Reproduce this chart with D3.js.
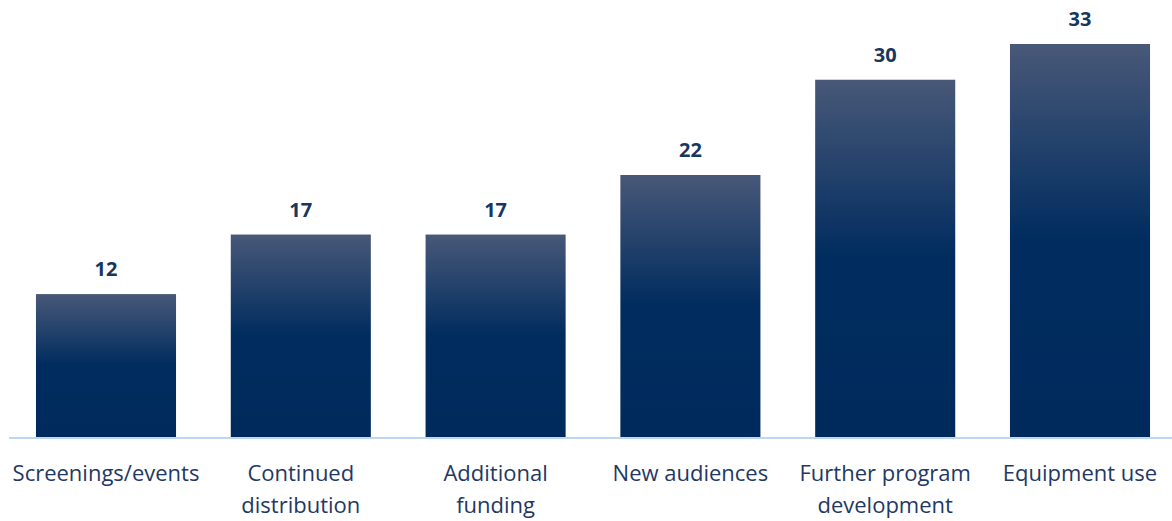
<!DOCTYPE html>
<html>
<head>
<meta charset="utf-8">
<script src="https://cdn.jsdelivr.net/npm/d3@7"></script>
<style>
  html, body { margin: 0; padding: 0; background: #fff; }
  svg { display: block; }
</style>
</head>
<body>
<svg id="chart" width="1172" height="521"></svg>
<script>
// Category labels (each entry is a list of lines) and counts
const categories = [
  ["Screenings/events"],
  ["Continued", "distribution"],
  ["Additional", "funding"],
  ["New audiences"],
  ["Further program", "development"],
  ["Equipment use"]
];
const values = [12, 17, 17, 22, 30, 33];

const width = 1172, height = 521;
const baseY = 437;
const svg = d3.select("#chart");

const x = d3.scaleBand()
  .domain(d3.range(categories.length))
  .range([8.6, 1177.4])
  .paddingInner(0.281)
  .paddingOuter(0.1405);

const y = d3.scaleLinear()
  .domain([0, 33])
  .range([baseY, 44]);

// Vertical gradient: slate blue at top fading into navy by the middle
const grad = svg.append("defs").append("linearGradient")
  .attr("id", "barGrad")
  .attr("x1", 0).attr("y1", 0).attr("x2", 0).attr("y2", 1);
grad.append("stop").attr("offset", "0%").attr("stop-color", "#485878");
grad.append("stop").attr("offset", "50%").attr("stop-color", "#002c5f");
grad.append("stop").attr("offset", "100%").attr("stop-color", "#002a5c");

svg.append("g").selectAll("rect")
  .data(values)
  .join("rect")
  .attr("x", (d, i) => x(i))
  .attr("y", d => y(d))
  .attr("width", x.bandwidth())
  .attr("height", d => baseY - y(d))
  .attr("fill", "url(#barGrad)");

// Value labels above bars
svg.append("g").selectAll("text")
  .data(values)
  .join("text")
  .attr("x", (d, i) => x(i) + x.bandwidth() / 2)
  .attr("y", d => y(d) - 18)
  .attr("text-anchor", "middle")
  .attr("font-family", "'Open Sans', sans-serif")
  .attr("font-weight", "bold")
  .attr("font-size", 20)
  .attr("fill", "#17375e")
  .text(d => d);

// Baseline
svg.append("line")
  .attr("x1", 9).attr("x2", width)
  .attr("y1", baseY + 1).attr("y2", baseY + 1)
  .attr("stroke", "#bdd7ee")
  .attr("stroke-width", 2);

// Category labels
const cat = svg.append("g").selectAll("text")
  .data(categories)
  .join("text")
  .attr("x", (d, i) => x(i) + x.bandwidth() / 2)
  .attr("y", 481)
  .attr("text-anchor", "middle")
  .attr("font-family", "'Open Sans', sans-serif")
  .attr("font-size", 22)
  .attr("fill", "#1f3864");
cat.selectAll("tspan")
  .data(d => d)
  .join("tspan")
  .attr("x", function () { return d3.select(this.parentNode).attr("x"); })
  .attr("dy", (d, j) => j === 0 ? 0 : 32)
  .text(d => d);
</script>
</body>
</html>
